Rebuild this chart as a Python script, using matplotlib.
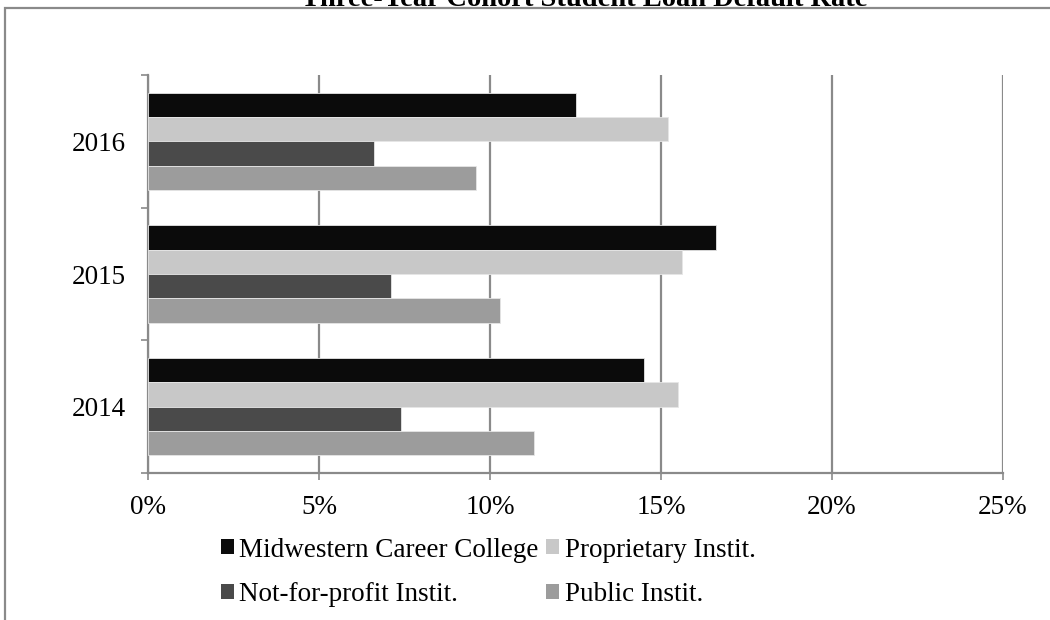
import matplotlib as mpl
mpl.use('Agg')
import matplotlib.pyplot as plt
import numpy as np
from matplotlib.patches import Patch, Rectangle

plt.rcParams['font.family'] = ['Liberation Serif', 'DejaVu Serif']

title = "Three-Year Cohort Student Loan Default Rate"
years = ["2014", "2015", "2016"]
series = ["Midwestern Career College", "Proprietary Instit.",
          "Not-for-profit Instit.", "Public Instit."]
midwestern = [14.5, 16.6, 12.5]
proprietary = [15.5, 15.6, 15.2]
not_for_profit = [7.4, 7.1, 6.6]
public = [11.3, 10.3, 9.6]
values = [midwestern, proprietary, not_for_profit, public]
colors = ["#0b0b0b", "#c8c8c8", "#4a4a4a", "#9c9c9c"]
xticks = [0, 5, 10, 15, 20, 25]

grid_col = "#8a8a8a"
fs = 19.5

fig = plt.figure(figsize=(10.5, 6.2), dpi=100)

# outer chart frame (cropped at the right and bottom)
frame = Rectangle((4.5 / 1050, -0.1), 1.2, 1.1 - 8 / 620, transform=fig.transFigure,
                  fill=False, edgecolor=grid_col, linewidth=1.6, clip_on=False)
fig.patches.append(frame)
fig.text(584 / 1050, 1 - 6 / 620, title, ha='center', va='baseline',
         fontsize=20.5, fontweight='bold')

ax = fig.add_axes([148 / 1050, 1 - 473 / 620, 855 / 1050, 398 / 620])

y = np.arange(len(years))
h = 0.183
offsets = [1.5 * h, 0.5 * h, -0.5 * h, -1.5 * h]
for vals, off, c, name in zip(values, offsets, colors, series):
    ax.barh(y + off, vals, height=h, color=c, edgecolor='#e6e6e6',
            linewidth=0.6, label=name, zorder=3)

ax.set_xlim(0, 25)
ax.set_ylim(-0.5, 2.5)
ax.set_xticks(xticks)
ax.set_xticklabels([f"{t}%" for t in xticks], fontsize=fs)
ax.xaxis.grid(True, color=grid_col, linewidth=1.6, zorder=0)
ax.set_axisbelow(True)

ax.set_yticks([-0.5, 0.5, 1.5, 2.5])
ax.set_yticklabels([])
ax.set_yticks(y, minor=True)
ax.set_yticklabels(years, minor=True, fontsize=fs)
ax.tick_params(axis='y', which='major', length=5, width=1.2, color=grid_col)
ax.tick_params(axis='y', which='minor', length=0, pad=16)
ax.tick_params(axis='x', length=5, width=1.2, color=grid_col, pad=11)

for s in ['top', 'right']:
    ax.spines[s].set_visible(False)
for s in ['left', 'bottom']:
    ax.spines[s].set_color(grid_col)
    ax.spines[s].set_linewidth(1.6)

# legend fills column-wise, so reorder to get rows as in the reference
order = [0, 2, 1, 3]
handles = [Patch(facecolor=colors[i], edgecolor='none') for i in order]
labels = [series[i] for i in order]
fig.legend(handles, labels, loc='upper left', bbox_to_anchor=(207 / 1050, 1 - 524 / 620),
           ncol=2, frameon=False, fontsize=fs, handlelength=0.48, handleheight=0.48,
           handletextpad=0.2, columnspacing=0.3, labelspacing=0.72, borderpad=0)

plt.savefig("out.png", dpi=100)
